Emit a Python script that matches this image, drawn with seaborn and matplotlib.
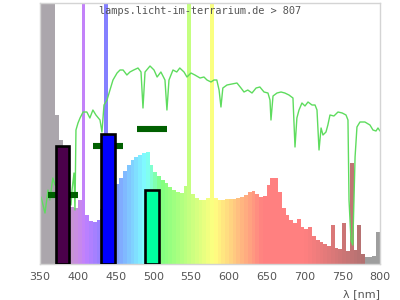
import numpy as np
import pandas as pd
import matplotlib
matplotlib.use("Agg")
import matplotlib.pyplot as plt
import seaborn as sns

# ---- data ----
# lamp spectrum, 5 nm bins (left edge), relative height
spec_nm = list(range(350, 800, 5))
spec_val = [300, 300, 300, 300, 149, 124, 99, 74, 57, 56,
            64, 300, 49, 43, 42, 44, 55, 300, 68, 75,
            80, 86, 93, 99, 104, 107, 109, 111, 112, 99,
            92, 88, 84, 81, 77, 74, 72, 71, 78, 300,
            70, 66, 64, 64, 66, 300, 66, 64, 64, 65,
            65, 65, 66, 67, 69, 72, 73, 70, 67, 68,
            79, 86, 86, 72, 56, 49, 44, 41, 45, 37,
            35, 37, 28, 24, 22, 20, 18, 39, 16, 15,
            41, 13, 101, 14, 39, 10, 7, 7, 8, 32]

# reference (sun) spectrum line
sun_nm = [351.3, 354, 356.6, 360.6, 363, 367, 370, 380, 391, 392.4, 395, 396.3,
          397.6, 400.3, 403, 407, 412, 416, 420, 424, 429.4, 432, 434.7, 438.7,
          442.6, 446.6, 452, 455.9, 460, 465, 469, 474, 479.7, 483.7, 486.3, 489,
          495.6, 500.9, 505, 510, 515.4, 518, 520.7, 526, 531, 535, 540.6, 544.5,
          549.8, 555, 561.8, 567, 571, 576.3, 580.3, 584, 587, 589.5, 592, 597.5,
          604, 610.7, 616, 620, 625, 630.6, 636, 641, 646.5, 651.7, 654.4, 655.7,
          658.4, 663.7, 669, 674, 679.5, 684.8, 687.5, 690, 692.8, 696.7, 700.7,
          704.7, 710, 714, 716.6, 719.3, 722, 724.5, 728.5, 731, 733.8, 739, 744.4,
          750, 755, 757.6, 759, 761.6, 764, 767, 769.5, 773.5, 780, 786.7, 790.7,
          794.7, 797.3, 800]
sun_val = [67, 59, 51, 74, 64, 86, 79, 80, 59, 74, 91, 54,
           134, 141, 146, 152, 152, 146, 154, 149, 144, 132, 159, 164,
           174, 184, 191, 194, 194, 189, 192, 194, 196, 192, 156, 192,
           198, 194, 187, 192, 184, 154, 184, 194, 192, 196, 192, 187,
           191, 189, 186, 187, 184, 182, 184, 184, 174, 157, 176, 179,
           180, 181, 176, 172, 174, 171, 176, 177, 172, 171, 164, 144,
           168, 171, 172, 171, 169, 166, 117, 146, 154, 161, 158,
           162, 159, 159, 154, 114, 136, 129, 132, 139, 149, 148, 152,
           151, 149, 144, 64, 24, 19, 107, 137, 142, 142, 139, 134,
           133, 136, 133]

# band bars
band_center = [380, 440, 498]
band_value = [118, 130, 74]
band_colors = ["#4b004b", "#0000ff", "#00ffa0"]
# dark green marker dashes
mark_center = [380, 440, 498]
mark_value = [69, 118.5, 135.5]

title = "lamps.licht-im-terrarium.de > 807"
xticks = [350, 400, 450, 500, 550, 600, 650, 700, 750, 800]


def wl_color(w):
    if w < 380:
        r, g, b = 0.6, 0.0, 1.0
    elif w < 440:
        r, g, b = -(w - 440) / 60, 0.0, 1.0
    elif w < 490:
        r, g, b = 0.0, (w - 440) / 50, 1.0
    elif w < 510:
        r, g, b = 0.0, 1.0, -(w - 510) / 20
    elif w < 580:
        r, g, b = (w - 510) / 70, 1.0, 0.0
    elif w < 645:
        r, g, b = 1.0, -(w - 645) / 65, 0.0
    else:
        r, g, b = 1.0, 0.0, 0.0
    base = np.array([0.5 + 0.5 * r, 0.5 + 0.5 * g, 0.5 + 0.5 * b])
    if w < 420:
        t = np.clip((w - 377) / 33, 0, 1)
        gray = np.array([0.67, 0.65, 0.675])
        return tuple(gray + (base - gray) * t)
    if w >= 780:
        return (0.62, 0.62, 0.62)
    if w > 700:
        t = (w - 700) / 80
        end = np.array([0.69, 0.44, 0.44])
        return tuple(base + (end - base) * t)
    return tuple(base)


sns.set_style("white")
plt.rcParams["font.family"] = ["DejaVu Sans"]

fig = plt.figure(figsize=(4, 3), dpi=100)
ax = fig.add_axes([0.1, 0.12, 0.85, 261 / 300])

spec_df = pd.DataFrame({"nm": spec_nm, "val": spec_val})
ax.bar(spec_df["nm"], spec_df["val"], width=5, align="edge",
       color=[wl_color(w + 2.5) for w in spec_nm], linewidth=0, zorder=1)

sun_df = pd.DataFrame({"nm": sun_nm, "val": sun_val})
sns.lineplot(data=sun_df, x="nm", y="val", ax=ax, color="#5edc5e",
             linewidth=1, estimator=None, zorder=2)

ax.hlines(mark_value, [c - 20 for c in mark_center], [c + 20 for c in mark_center],
          color="#006000", linewidth=4.4, zorder=3)

ax.bar(band_center, band_value, width=18, color=band_colors,
       edgecolor="black", linewidth=1.9, zorder=4)

ax.set_xlim(350, 800)
ax.set_ylim(0, 261)
ax.set_xticks(xticks)
ax.set_yticks([])
ax.tick_params(axis="x", length=0, pad=6, labelsize=8, colors="#555555")
for s in ax.spines.values():
    s.set_color("#d4d4d4")
    s.set_linewidth(1)
ax.set_ylabel("")
ax.set_xlabel("λ [nm]", loc="right", fontsize=8, color="#555555")
ax.xaxis.set_label_coords(1.0, -25 / 261)

fig.text(0.5, 1 - 11 / 300, title, ha="center", va="center",
         family="DejaVu Sans Mono", fontsize=7.4, color="#555555", zorder=10)

fig.savefig("out.png", dpi=100)
